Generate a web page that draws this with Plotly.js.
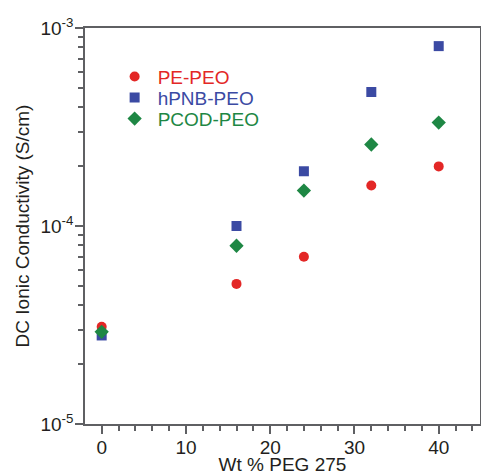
<!DOCTYPE html>
<html>
<head>
<meta charset="utf-8">
<script src="https://cdn.plot.ly/plotly-3.0.1.min.js"></script>
<style>html,body{margin:0;padding:0;background:#fff;}#chart{width:481px;height:475px;}</style>
</head>
<body>
<div id="chart"></div>
<script>
const wtPEG = [0, 16, 24, 32, 40];
const pePEO = [3.1e-5, 5.1e-5, 7.0e-5, 1.6e-4, 2.0e-4];
const hpnbPEO = [2.8e-5, 1.0e-4, 1.89e-4, 4.75e-4, 8.1e-4];
const pcodPEO = [2.92e-5, 7.95e-5, 1.51e-4, 2.58e-4, 3.33e-4];
const seriesNames = ['PE-PEO', 'hPNB-PEO', 'PCOD-PEO'];
const yTickVals = [1e-5, 1e-4, 1e-3];
const yTickText = ['10<sup>-5</sup>', '10<sup>-4</sup>', '10<sup>-3</sup>'];

const red = '#e32726', blue = '#3b4aa3', green = '#1e8744';
const axisGrey = '#5f6063';
const font = {family: 'Liberation Sans, Arial, sans-serif', size: 19, color: '#231f20'};

const traces = [
  {x: wtPEG, y: pePEO, name: seriesNames[0], mode: 'markers', type: 'scatter',
   marker: {symbol: 'circle', size: 10, color: red}},
  {x: wtPEG, y: hpnbPEO, name: seriesNames[1], mode: 'markers', type: 'scatter',
   marker: {symbol: 'square', size: 10, color: blue}},
  {x: wtPEG, y: pcodPEO, name: seriesNames[2], mode: 'markers', type: 'scatter',
   marker: {symbol: 'diamond', size: 11, color: green}}
];

const layout = {
  width: 481, height: 475,
  margin: {l: 85, r: 1, t: 28, b: 51, pad: 0},
  paper_bgcolor: '#fff', plot_bgcolor: '#fff',
  font: font,
  showlegend: true,
  hovermode: false,
  legend: {x: 0.075, y: 0.925, xanchor: 'left', yanchor: 'top', bgcolor: 'rgba(0,0,0,0)',
           font: {family: font.family, size: 19}, itemwidth: 30},
  xaxis: {
    range: [-1.98, 44.9], showgrid: false, zeroline: false,
    showline: true, mirror: true, linecolor: axisGrey, linewidth: 1.5,
    ticks: 'outside', ticklen: 8, tickcolor: axisGrey, tickwidth: 1.6,
    dtick: 10, tick0: 0, tickfont: {size: 19}, ticklabelstandoff: -3,
    minor: {dtick: 2, tick0: 0, ticks: 'outside', ticklen: 5, tickcolor: axisGrey, tickwidth: 1.5, showgrid: false},
    title: {text: 'Wt % PEG 275', font: {size: 19}, standoff: 6}
  },
  yaxis: {
    type: 'log', range: [-5, -3], showgrid: false, zeroline: false,
    showline: true, mirror: true, linecolor: axisGrey, linewidth: 1.5,
    ticks: 'outside', ticklen: 8, tickcolor: axisGrey, tickwidth: 1.6,
    tickmode: 'array', tickvals: yTickVals, ticktext: yTickText, tickfont: {size: 19},
    ticklabelstandoff: -2,
    minor: {dtick: 'D1', ticks: 'outside', ticklen: 5, tickcolor: axisGrey, tickwidth: 1.5, showgrid: false},
    title: {text: 'DC Ionic Conductivity (S/cm)', font: {size: 19}, standoff: 6}
  }
};

const cols = [red, blue, green];
Plotly.newPlot('chart', traces, layout, {displayModeBar: false}).then(() => {
  const items = document.querySelectorAll('.legend .traces');
  let y0 = null;
  items.forEach((g, i) => {
    const tr = g.getAttribute('transform') || '';
    const m = tr.match(/translate\(([-\d.]+)[ ,]+([-\d.]+)\)/);
    if (m && y0 === null) y0 = parseFloat(m[2]);
    if (m) g.setAttribute('transform', 'translate(' + m[1] + ',' + (y0 + i * 21) + ')');
    const t = g.querySelector('.legendtext');
    if (t) {
      t.style.fill = cols[i];
      t.setAttribute('x', parseFloat(t.getAttribute('x') || 40) + 3);
    }
  });
});
</script>
</body>
</html>
